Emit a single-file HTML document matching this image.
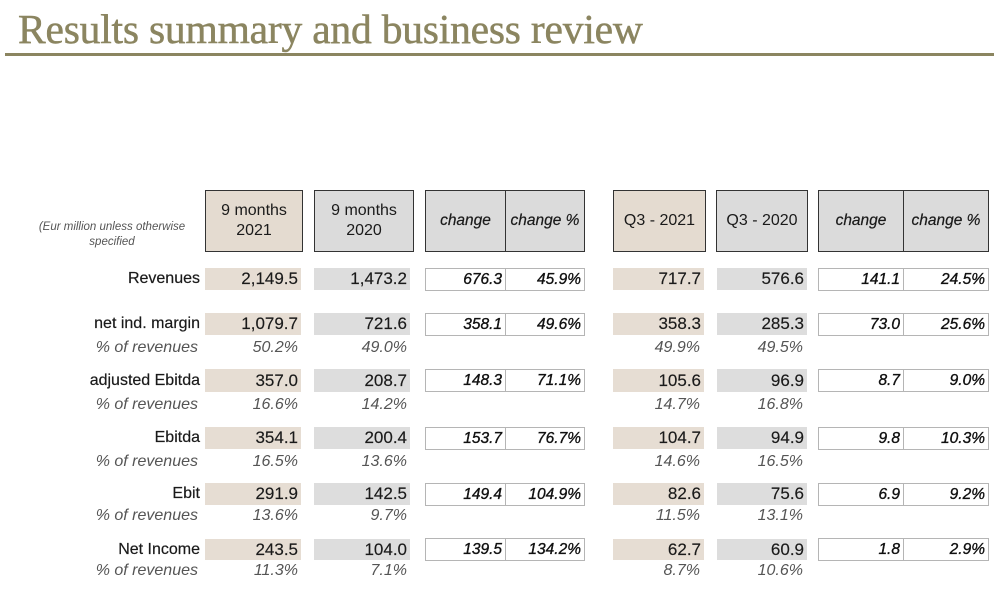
<!DOCTYPE html>
<html>
<head>
<meta charset="utf-8">
<style>
  html,body{margin:0;padding:0;background:#fff;}
  body{width:994px;height:595px;position:relative;overflow:hidden;font-family:"Liberation Sans",sans-serif;color:#1a1a1a;}
  .title{position:absolute;left:18px;top:5px;font-family:"Liberation Serif",serif;font-size:41.5px;color:#8b8560;white-space:nowrap;letter-spacing:-0.2px;-webkit-text-stroke:0.5px #8b8560;}
  .rule{position:absolute;left:5px;top:53px;width:989px;height:3px;background:#8b8560;}
  .sub{position:absolute;left:20px;top:220px;width:184px;text-align:center;font-size:11.5px;font-style:italic;color:#555;line-height:15px;}
  .hb{position:absolute;top:190px;height:62px;border:1px solid #333;box-sizing:border-box;display:flex;align-items:center;justify-content:center;text-align:center;font-size:16px;line-height:20px;color:#1a1a1a;}
  .tan{background:#e4dbd0;}
  .gry{background:#dbdbdb;}
  .it{font-style:italic;font-size:15.5px;-webkit-text-stroke:0.2px #1a1a1a;}
  .c{position:absolute;box-sizing:border-box;text-align:right;padding-right:3px;font-size:17px;white-space:nowrap;-webkit-text-stroke:0.15px #1a1a1a;}
  .ct{background:#e6ddd3;}
  .cg{background:#dddddd;}
  .cw{border:1px solid #b5b5b5;background:#fff;font-style:italic;font-size:15.5px;padding-right:3px;color:#111;-webkit-text-stroke:0.35px #111;}
  .p{position:absolute;text-align:right;font-style:italic;font-size:16px;color:#555;white-space:nowrap;height:20px;line-height:20px;}
  .lab{position:absolute;right:794px;text-align:right;font-size:16px;white-space:nowrap;color:#1a1a1a;-webkit-text-stroke:0.2px #1a1a1a;}
  .plab{position:absolute;right:796px;text-align:right;font-size:16px;font-style:italic;color:#555;white-space:nowrap;height:20px;line-height:20px;}
</style>
</head>
<body>
<div class="title">Results summary and business review</div>
<div class="rule"></div>

<div class="sub">(Eur million unless otherwise<br>specified</div>

<div class="hb tan" style="left:205px;width:98px;">9 months<br>2021</div>
<div class="hb gry" style="left:314px;width:100px;">9 months<br>2020</div>
<div class="hb gry it" style="left:425px;width:81px;">change</div>
<div class="hb gry it" style="left:505px;width:80px;">change %</div>
<div class="hb tan" style="left:613px;width:93px;">Q3 - 2021</div>
<div class="hb gry" style="left:716px;width:92px;">Q3 - 2020</div>
<div class="hb gry it" style="left:818px;width:86px;">change</div>
<div class="hb gry it" style="left:903px;width:86px;">change %</div>

<!-- Row 0: Revenues 268-290 -->
<div class="lab" style="top:268px;height:22px;line-height:22px;">Revenues</div>
<div class="c ct" style="left:205px;width:96px;top:268px;height:22px;line-height:22px;">2,149.5</div>
<div class="c cg" style="left:314px;width:96px;top:268px;height:22px;line-height:22px;">1,473.2</div>
<div class="c cw" style="left:425px;width:81px;top:268px;height:23px;line-height:21px;">676.3</div>
<div class="c cw" style="left:505px;width:80px;top:268px;height:23px;line-height:21px;">45.9%</div>
<div class="c ct" style="left:613px;width:91px;top:268px;height:22px;line-height:22px;">717.7</div>
<div class="c cg" style="left:717px;width:90px;top:268px;height:22px;line-height:22px;">576.6</div>
<div class="c cw" style="left:818px;width:86px;top:268px;height:23px;line-height:21px;">141.1</div>
<div class="c cw" style="left:903px;width:86px;top:268px;height:23px;line-height:21px;">24.5%</div>

<!-- Row 1: net ind. margin 313-335 -->
<div class="lab" style="top:313px;height:22px;line-height:22px;">net ind. margin</div>
<div class="c ct" style="left:205px;width:96px;top:313px;height:22px;line-height:22px;">1,079.7</div>
<div class="c cg" style="left:314px;width:96px;top:313px;height:22px;line-height:22px;">721.6</div>
<div class="c cw" style="left:425px;width:81px;top:313px;height:23px;line-height:21px;">358.1</div>
<div class="c cw" style="left:505px;width:80px;top:313px;height:23px;line-height:21px;">49.6%</div>
<div class="c ct" style="left:613px;width:91px;top:313px;height:22px;line-height:22px;">358.3</div>
<div class="c cg" style="left:717px;width:90px;top:313px;height:22px;line-height:22px;">285.3</div>
<div class="c cw" style="left:818px;width:86px;top:313px;height:23px;line-height:21px;">73.0</div>
<div class="c cw" style="left:903px;width:86px;top:313px;height:23px;line-height:21px;">25.6%</div>
<div class="plab" style="top:338px;">% of revenues</div>
<div class="p" style="left:205px;width:93px;top:338px;">50.2%</div>
<div class="p" style="left:314px;width:93px;top:338px;">49.0%</div>
<div class="p" style="left:613px;width:87px;top:338px;">49.9%</div>
<div class="p" style="left:717px;width:86px;top:338px;">49.5%</div>

<!-- Row 2: adjusted Ebitda 369-392 -->
<div class="lab" style="top:369px;height:23px;line-height:23px;">adjusted Ebitda</div>
<div class="c ct" style="left:205px;width:96px;top:369px;height:23px;line-height:23px;">357.0</div>
<div class="c cg" style="left:314px;width:96px;top:369px;height:23px;line-height:23px;">208.7</div>
<div class="c cw" style="left:425px;width:81px;top:369px;height:23px;line-height:21px;">148.3</div>
<div class="c cw" style="left:505px;width:80px;top:369px;height:23px;line-height:21px;">71.1%</div>
<div class="c ct" style="left:613px;width:91px;top:369px;height:23px;line-height:23px;">105.6</div>
<div class="c cg" style="left:717px;width:90px;top:369px;height:23px;line-height:23px;">96.9</div>
<div class="c cw" style="left:818px;width:86px;top:369px;height:23px;line-height:21px;">8.7</div>
<div class="c cw" style="left:903px;width:86px;top:369px;height:23px;line-height:21px;">9.0%</div>
<div class="plab" style="top:395px;">% of revenues</div>
<div class="p" style="left:205px;width:93px;top:395px;">16.6%</div>
<div class="p" style="left:314px;width:93px;top:395px;">14.2%</div>
<div class="p" style="left:613px;width:87px;top:395px;">14.7%</div>
<div class="p" style="left:717px;width:86px;top:395px;">16.8%</div>

<!-- Row 3: Ebitda 428-449 -->
<div class="lab" style="top:427px;height:22px;line-height:22px;">Ebitda</div>
<div class="c ct" style="left:205px;width:96px;top:427px;height:22px;line-height:22px;">354.1</div>
<div class="c cg" style="left:314px;width:96px;top:427px;height:22px;line-height:22px;">200.4</div>
<div class="c cw" style="left:425px;width:81px;top:427px;height:23px;line-height:21px;">153.7</div>
<div class="c cw" style="left:505px;width:80px;top:427px;height:23px;line-height:21px;">76.7%</div>
<div class="c ct" style="left:613px;width:91px;top:427px;height:22px;line-height:22px;">104.7</div>
<div class="c cg" style="left:717px;width:90px;top:427px;height:22px;line-height:22px;">94.9</div>
<div class="c cw" style="left:818px;width:86px;top:427px;height:23px;line-height:21px;">9.8</div>
<div class="c cw" style="left:903px;width:86px;top:427px;height:23px;line-height:21px;">10.3%</div>
<div class="plab" style="top:452px;">% of revenues</div>
<div class="p" style="left:205px;width:93px;top:452px;">16.5%</div>
<div class="p" style="left:314px;width:93px;top:452px;">13.6%</div>
<div class="p" style="left:613px;width:87px;top:452px;">14.6%</div>
<div class="p" style="left:717px;width:86px;top:452px;">16.5%</div>

<!-- Row 4: Ebit 483-504 -->
<div class="lab" style="top:483px;height:22px;line-height:22px;">Ebit</div>
<div class="c ct" style="left:205px;width:96px;top:483px;height:22px;line-height:22px;">291.9</div>
<div class="c cg" style="left:314px;width:96px;top:483px;height:22px;line-height:22px;">142.5</div>
<div class="c cw" style="left:425px;width:81px;top:483px;height:23px;line-height:21px;">149.4</div>
<div class="c cw" style="left:505px;width:80px;top:483px;height:23px;line-height:21px;">104.9%</div>
<div class="c ct" style="left:613px;width:91px;top:483px;height:22px;line-height:22px;">82.6</div>
<div class="c cg" style="left:717px;width:90px;top:483px;height:22px;line-height:22px;">75.6</div>
<div class="c cw" style="left:818px;width:86px;top:483px;height:23px;line-height:21px;">6.9</div>
<div class="c cw" style="left:903px;width:86px;top:483px;height:23px;line-height:21px;">9.2%</div>
<div class="plab" style="top:506px;">% of revenues</div>
<div class="p" style="left:205px;width:93px;top:506px;">13.6%</div>
<div class="p" style="left:314px;width:93px;top:506px;">9.7%</div>
<div class="p" style="left:613px;width:87px;top:506px;">11.5%</div>
<div class="p" style="left:717px;width:86px;top:506px;">13.1%</div>

<!-- Row 5: Net Income 539-559 -->
<div class="lab" style="top:539px;height:21px;line-height:21px;">Net Income</div>
<div class="c ct" style="left:205px;width:96px;top:539px;height:21px;line-height:21px;">243.5</div>
<div class="c cg" style="left:314px;width:96px;top:539px;height:21px;line-height:21px;">104.0</div>
<div class="c cw" style="left:425px;width:81px;top:538px;height:23px;line-height:21px;">139.5</div>
<div class="c cw" style="left:505px;width:80px;top:538px;height:23px;line-height:21px;">134.2%</div>
<div class="c ct" style="left:613px;width:91px;top:539px;height:21px;line-height:21px;">62.7</div>
<div class="c cg" style="left:717px;width:90px;top:539px;height:21px;line-height:21px;">60.9</div>
<div class="c cw" style="left:818px;width:86px;top:538px;height:23px;line-height:21px;">1.8</div>
<div class="c cw" style="left:903px;width:86px;top:538px;height:23px;line-height:21px;">2.9%</div>
<div class="plab" style="top:561px;">% of revenues</div>
<div class="p" style="left:205px;width:93px;top:561px;">11.3%</div>
<div class="p" style="left:314px;width:93px;top:561px;">7.1%</div>
<div class="p" style="left:613px;width:87px;top:561px;">8.7%</div>
<div class="p" style="left:717px;width:86px;top:561px;">10.6%</div>
</body>
</html>
